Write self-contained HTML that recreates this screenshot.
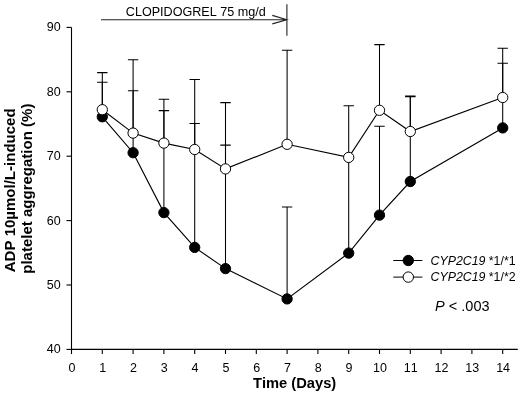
<!DOCTYPE html>
<html><head><meta charset="utf-8"><title>chart</title>
<style>html,body{margin:0;padding:0;background:#fff;width:520px;height:393px;overflow:hidden;font-family:"Liberation Sans",sans-serif}</style></head>
<body>
<svg width="520" height="393" viewBox="0 0 520 393" style="position:absolute;left:0;top:0;will-change:transform">
<rect width="520" height="393" fill="#fff"/>
<g stroke="#000" stroke-width="1.1" fill="none" stroke-linecap="butt">
<path d="M71.5 27.4 V349.4 H517.8"/>
<path d="M66.5 349.40 H71.5"/>
<path d="M66.5 285.00 H71.5"/>
<path d="M66.5 220.60 H71.5"/>
<path d="M66.5 156.20 H71.5"/>
<path d="M66.5 91.80 H71.5"/>
<path d="M66.5 27.40 H71.5"/>
<path d="M71.50 349.4 V354.0"/>
<path d="M102.30 349.4 V354.0"/>
<path d="M133.10 349.4 V354.0"/>
<path d="M163.90 349.4 V354.0"/>
<path d="M194.70 349.4 V354.0"/>
<path d="M225.50 349.4 V354.0"/>
<path d="M256.30 349.4 V354.0"/>
<path d="M287.10 349.4 V354.0"/>
<path d="M317.90 349.4 V354.0"/>
<path d="M348.70 349.4 V354.0"/>
<path d="M379.50 349.4 V354.0"/>
<path d="M410.30 349.4 V354.0"/>
<path d="M441.10 349.4 V354.0"/>
<path d="M471.90 349.4 V354.0"/>
<path d="M502.70 349.4 V354.0"/>
</g>
<g stroke="#222" stroke-width="1.1" fill="none">
<path d="M101 19.7 H286.9 M286.9 4.3 V35.7 M272.3 15.4 L286.9 19.7 L272.3 23.9"/>
</g>
<g stroke="#000" stroke-width="1.05" fill="none">
<path d="M102.30 116.80 V82.30 M97.10 82.30 H107.50"/>
<path d="M133.10 152.70 V90.80 M127.90 90.80 H138.30"/>
<path d="M163.90 212.60 V110.60 M158.70 110.60 H169.10"/>
<path d="M194.70 247.40 V123.40 M189.50 123.40 H199.90"/>
<path d="M225.50 268.60 V145.10 M220.30 145.10 H230.70"/>
<path d="M287.10 298.90 V206.90 M281.90 206.90 H292.30"/>
<path d="M348.70 253.10 V157.40 M343.50 157.40 H353.90"/>
<path d="M379.50 215.10 V126.20 M374.30 126.20 H384.70"/>
<path d="M410.30 181.50 V96.60 M405.10 96.60 H415.50"/>
<path d="M502.70 127.90 V63.20 M497.50 63.20 H507.90"/>
</g>
<polyline points="102.30,116.80 133.10,152.70 163.90,212.60 194.70,247.40 225.50,268.60 287.10,298.90 348.70,253.10 379.50,215.10 410.30,181.50 502.70,127.90" fill="none" stroke="#000" stroke-width="1.15"/>
<circle cx="102.30" cy="116.80" r="5.15" fill="#000" stroke="#000" stroke-width="1"/>
<circle cx="133.10" cy="152.70" r="5.15" fill="#000" stroke="#000" stroke-width="1"/>
<circle cx="163.90" cy="212.60" r="5.15" fill="#000" stroke="#000" stroke-width="1"/>
<circle cx="194.70" cy="247.40" r="5.15" fill="#000" stroke="#000" stroke-width="1"/>
<circle cx="225.50" cy="268.60" r="5.15" fill="#000" stroke="#000" stroke-width="1"/>
<circle cx="287.10" cy="298.90" r="5.15" fill="#000" stroke="#000" stroke-width="1"/>
<circle cx="348.70" cy="253.10" r="5.15" fill="#000" stroke="#000" stroke-width="1"/>
<circle cx="379.50" cy="215.10" r="5.15" fill="#000" stroke="#000" stroke-width="1"/>
<circle cx="410.30" cy="181.50" r="5.15" fill="#000" stroke="#000" stroke-width="1"/>
<circle cx="502.70" cy="127.90" r="5.15" fill="#000" stroke="#000" stroke-width="1"/>
<g stroke="#000" stroke-width="1.05" fill="none">
<path d="M102.30 109.70 V72.60 M97.10 72.60 H107.50"/>
<path d="M133.10 133.10 V59.70 M127.90 59.70 H138.30"/>
<path d="M163.90 143.10 V99.20 M158.70 99.20 H169.10"/>
<path d="M194.70 149.50 V79.50 M189.50 79.50 H199.90"/>
<path d="M225.50 168.90 V102.60 M220.30 102.60 H230.70"/>
<path d="M287.10 144.30 V50.30 M281.90 50.30 H292.30"/>
<path d="M348.70 157.40 V105.80 M343.50 105.80 H353.90"/>
<path d="M379.50 110.30 V44.60 M374.30 44.60 H384.70"/>
<path d="M410.30 131.50 V95.90 M405.10 95.90 H415.50"/>
<path d="M502.70 97.50 V48.20 M497.50 48.20 H507.90"/>
</g>
<polyline points="102.30,109.70 133.10,133.10 163.90,143.10 194.70,149.50 225.50,168.90 287.10,144.30 348.70,157.40 379.50,110.30 410.30,131.50 502.70,97.50" fill="none" stroke="#000" stroke-width="1.15"/>
<circle cx="102.30" cy="109.70" r="5.15" fill="#fff" stroke="#000" stroke-width="1"/>
<circle cx="133.10" cy="133.10" r="5.15" fill="#fff" stroke="#000" stroke-width="1"/>
<circle cx="163.90" cy="143.10" r="5.15" fill="#fff" stroke="#000" stroke-width="1"/>
<circle cx="194.70" cy="149.50" r="5.15" fill="#fff" stroke="#000" stroke-width="1"/>
<circle cx="225.50" cy="168.90" r="5.15" fill="#fff" stroke="#000" stroke-width="1"/>
<circle cx="287.10" cy="144.30" r="5.15" fill="#fff" stroke="#000" stroke-width="1"/>
<circle cx="348.70" cy="157.40" r="5.15" fill="#fff" stroke="#000" stroke-width="1"/>
<circle cx="379.50" cy="110.30" r="5.15" fill="#fff" stroke="#000" stroke-width="1"/>
<circle cx="410.30" cy="131.50" r="5.15" fill="#fff" stroke="#000" stroke-width="1"/>
<circle cx="502.70" cy="97.50" r="5.15" fill="#fff" stroke="#000" stroke-width="1"/>
<path d="M393.3 260.5 H422.4" stroke="#000" stroke-width="1" fill="none"/>
<circle cx="408.3" cy="260.5" r="5.2" fill="#000" stroke="#000" stroke-width="1"/>
<path d="M393.3 277.1 H422.4" stroke="#000" stroke-width="1" fill="none"/>
<circle cx="408.3" cy="277.1" r="5.2" fill="#fff" stroke="#000" stroke-width="1"/>
<g font-family="Liberation Sans, sans-serif" fill="#000" style="font-kerning:none">
<g font-size="12.5px" text-anchor="end">
<text x="60.7" y="353.30">40</text>
<text x="60.7" y="288.90">50</text>
<text x="60.7" y="224.50">60</text>
<text x="60.7" y="160.10">70</text>
<text x="60.7" y="95.70">80</text>
<text x="60.7" y="31.30">90</text>
</g>
<g font-size="12.5px" text-anchor="middle">
<text x="71.90" y="371.9">0</text>
<text x="102.70" y="371.9">1</text>
<text x="133.50" y="371.9">2</text>
<text x="164.30" y="371.9">3</text>
<text x="195.10" y="371.9">4</text>
<text x="225.90" y="371.9">5</text>
<text x="256.70" y="371.9">6</text>
<text x="287.50" y="371.9">7</text>
<text x="318.30" y="371.9">8</text>
<text x="349.10" y="371.9">9</text>
<text x="379.90" y="371.9">10</text>
<text x="410.70" y="371.9">11</text>
<text x="441.50" y="371.9">12</text>
<text x="472.30" y="371.9">13</text>
<text x="503.10" y="371.9">14</text>
</g>
<text x="125.8" y="16.2" font-size="12.6px" id="clop">CLOPIDOGREL 75 mg/d</text>
<text x="430.5" y="264.9" font-size="12.35px" id="l1"><tspan font-style="italic">CYP2C19</tspan> *1/*1</text>
<text x="430.5" y="281.4" font-size="12.35px" id="l2"><tspan font-style="italic">CYP2C19</tspan> *1/*2</text>
<text x="435.1" y="311.4" font-size="14.5px" id="pv"><tspan font-style="italic">P</tspan> &lt; .003</text>
<text x="294.6" y="387.7" font-size="14.7px" font-weight="bold" text-anchor="middle" id="xt">Time (Days)</text>
<text transform="translate(15.1 190.3) rotate(-90)" font-size="15.03px" font-weight="bold" text-anchor="middle" id="y1">ADP 10µmol/L-induced</text>
<text transform="translate(32.4 188.7) rotate(-90)" font-size="15.03px" font-weight="bold" text-anchor="middle" id="y2">platelet aggregation (%)</text>
</g>
</svg>
</body></html>
